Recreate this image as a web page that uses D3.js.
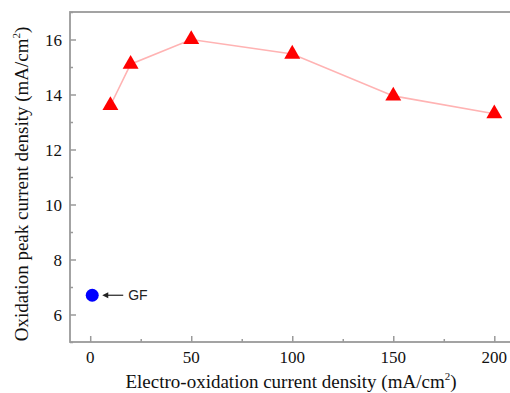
<!DOCTYPE html>
<html><head><meta charset="utf-8">
<script src="https://cdn.jsdelivr.net/npm/d3@7"></script>
<style>body{margin:0;background:#fff}svg{display:block}</style>
</head><body>
<svg id="c" width="510" height="393"></svg>
<script>
const xValues = [10, 20, 50, 100, 150, 200];
const yValues = [13.6, 15.1, 16.0, 15.47, 13.95, 13.3];
const gfX = [1];
const gfY = [6.7];
const xTicks = [0, 50, 100, 150, 200];
const xMinor = [25, 75, 125, 175];
const yTicks = [6, 8, 10, 12, 14, 16];
const yMinor = [5, 7, 9, 11, 13, 15, 17];
const gfLabel = "GF";

const svg = d3.select("#c");
const L = 70, T = 12, R = 514.5, B = 342;
const x = d3.scaleLinear().domain([-10, 210]).range([L, R]);
const y = d3.scaleLinear().domain([5, 17]).range([B, T]);
const frame = "#9a9a9a";
const serif = "Liberation Serif, Times New Roman, serif";

// frame
svg.append("rect").attr("x", L).attr("y", T).attr("width", R - L).attr("height", B - T)
  .attr("fill", "none").attr("stroke", frame).attr("stroke-width", 1.8);

const xAxis = svg.append("g").attr("transform", `translate(0,${B})`)
  .call(d3.axisBottom(x).tickValues(xTicks).tickSizeInner(-6).tickSizeOuter(0).tickFormat(""));
const xAxisMinor = svg.append("g").attr("transform", `translate(0,${B})`)
  .call(d3.axisBottom(x).tickValues(xMinor).tickSizeInner(-3).tickSizeOuter(0).tickFormat(""));
const yAxis = svg.append("g").attr("transform", `translate(${L},0)`)
  .call(d3.axisLeft(y).tickValues(yTicks).tickSizeInner(-6).tickSizeOuter(0).tickFormat(""));
const yAxisMinor = svg.append("g").attr("transform", `translate(${L},0)`)
  .call(d3.axisLeft(y).tickValues(yMinor).tickSizeInner(-3).tickSizeOuter(0).tickFormat(""));
[xAxis, xAxisMinor, yAxis, yAxisMinor].forEach(g => {
  g.select(".domain").remove();
  g.selectAll("text").remove();
  g.selectAll("line").attr("stroke", frame).attr("stroke-width", 1.5);
});

// tick labels
svg.append("g").attr("font-family", serif).attr("font-size", 17).attr("fill", "#111")
  .selectAll("text").data(xTicks).enter().append("text")
  .attr("x", d => x(d)).attr("y", B + 21).attr("text-anchor", "middle")
  .text(d => String(d));
svg.append("g").attr("font-family", serif).attr("font-size", 17).attr("fill", "#111")
  .selectAll("text").data(yTicks).enter().append("text")
  .attr("x", L - 8).attr("y", d => y(d) + 6).attr("text-anchor", "end")
  .text(d => String(d));

// line
const line = d3.line().x((d, i) => x(xValues[i])).y((d, i) => y(yValues[i]));
svg.append("path").datum(yValues).attr("d", line).attr("fill", "none")
  .attr("stroke", "#ffb3b3").attr("stroke-width", 1.6);

// triangles
const tri = d3.symbol().type(d3.symbolTriangle).size(110);
svg.selectAll(".tri").data(yValues).enter().append("path")
  .attr("transform", (d, i) => `translate(${x(xValues[i])},${y(d)})`)
  .attr("d", tri).attr("fill", "#ff0000");

// GF point
svg.selectAll(".gf").data(gfY).enter().append("circle")
  .attr("cx", (d, i) => x(gfX[i])).attr("cy", d => y(d)).attr("r", 6.5).attr("fill", "#0000ff");

// arrow
const gx = x(gfX[0]), gy = y(gfY[0]);
svg.append("line").attr("x1", gx + 13).attr("x2", gx + 31).attr("y1", gy).attr("y2", gy)
  .attr("stroke", "#222").attr("stroke-width", 1.2);
svg.append("path").attr("d", `M${gx + 10},${gy} L${gx + 16},${gy - 3} L${gx + 16},${gy + 3} Z`).attr("fill", "#222");
svg.append("text").attr("x", gx + 36).attr("y", gy + 5).text(gfLabel)
  .attr("font-family", "Liberation Sans, Arial, sans-serif").attr("font-size", 14).attr("fill", "#222");

// axis titles
const xt = svg.append("text").attr("x", 291).attr("y", 388).attr("text-anchor", "middle")
  .attr("font-family", serif).attr("font-size", 19).attr("fill", "#111");
xt.append("tspan").text("Electro-oxidation current density (mA/cm");
xt.append("tspan").attr("dy", -8).attr("font-size", 11).text("2");
xt.append("tspan").attr("dy", 8).text(")");

const yt = svg.append("text").attr("transform", "translate(28,184) rotate(-90)").attr("text-anchor", "middle")
  .attr("font-family", serif).attr("font-size", 19).attr("fill", "#111");
yt.append("tspan").text("Oxidation peak current density (mA/cm");
yt.append("tspan").attr("dy", -8).attr("font-size", 11).text("2");
yt.append("tspan").attr("dy", 8).text(")");
</script>
</body></html>
